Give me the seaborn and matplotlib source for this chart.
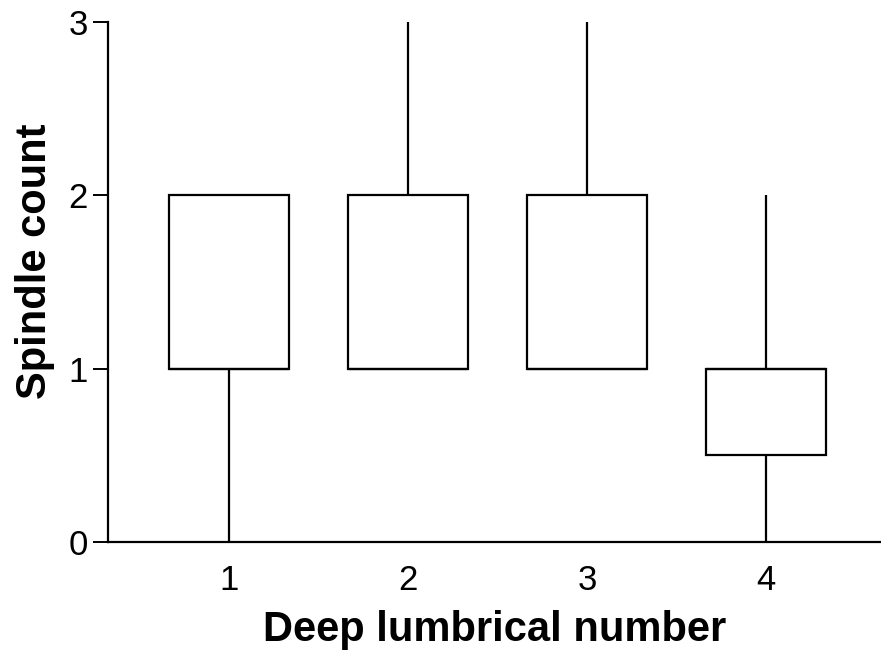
import numpy as np
import pandas as pd
import matplotlib
matplotlib.use("Agg")
import matplotlib.pyplot as plt
import seaborn as sns

# Data (spindle counts per deep lumbrical)
lumbrical_1 = [0, 1, 1, 2, 2]
lumbrical_2 = [1, 1, 1, 2, 3]
lumbrical_3 = [1, 1, 1, 2, 3]
lumbrical_4 = [0, 0, 1, 1, 1, 1, 2]
categories = ["1", "2", "3", "4"]
y_ticks = [0, 1, 2, 3]

groups = [lumbrical_1, lumbrical_2, lumbrical_3, lumbrical_4]
df = pd.DataFrame({
    "lumbrical": [c for c, g in zip(categories, groups) for _ in g],
    "count": [v for g in groups for v in g],
})

sns.set_style("ticks")
plt.rcParams["font.family"] = ["Liberation Sans", "DejaVu Sans"]
plt.rcParams["text.color"] = "black"
plt.rcParams["axes.labelcolor"] = "black"
plt.rcParams["xtick.color"] = "black"
plt.rcParams["ytick.color"] = "black"

fig = plt.figure(figsize=(8.81, 6.54), dpi=100)
ax = fig.add_axes([108 / 881, 112 / 654, 1 - 108 / 881, 520 / 654])

sns.boxplot(data=df, x="lumbrical", y="count", order=categories, ax=ax,
            whis=np.inf, width=0.67, showcaps=False, color="white",
            linecolor="black", linewidth=1.6, fill=True)

ax.set_ylim(0, 3)
ax.set_xlim(-0.675, 3.64)
ax.set_yticks(y_ticks)
ax.set_yticklabels([str(t) for t in y_ticks])
ax.tick_params(axis="y", length=11, width=1.4, labelsize=25, pad=3.5,
               color="black", labelcolor="black")
ax.tick_params(axis="x", length=0, labelsize=25, pad=15.5, labelcolor="black")
for s in ["top", "right"]:
    ax.spines[s].set_visible(False)
for s in ["left", "bottom"]:
    ax.spines[s].set_linewidth(1.6)
    ax.spines[s].set_color("black")
    ax.spines[s].set_clip_on(False)

ax.set_xlabel("Deep lumbrical number", fontsize=30, fontweight="bold",
              labelpad=9.5, color="black")
ax.set_ylabel("Spindle count", fontsize=30, fontweight="bold", color="black")
ax.yaxis.set_label_coords(-0.0685, 0.54)

fig.savefig("out.png", dpi=100)
